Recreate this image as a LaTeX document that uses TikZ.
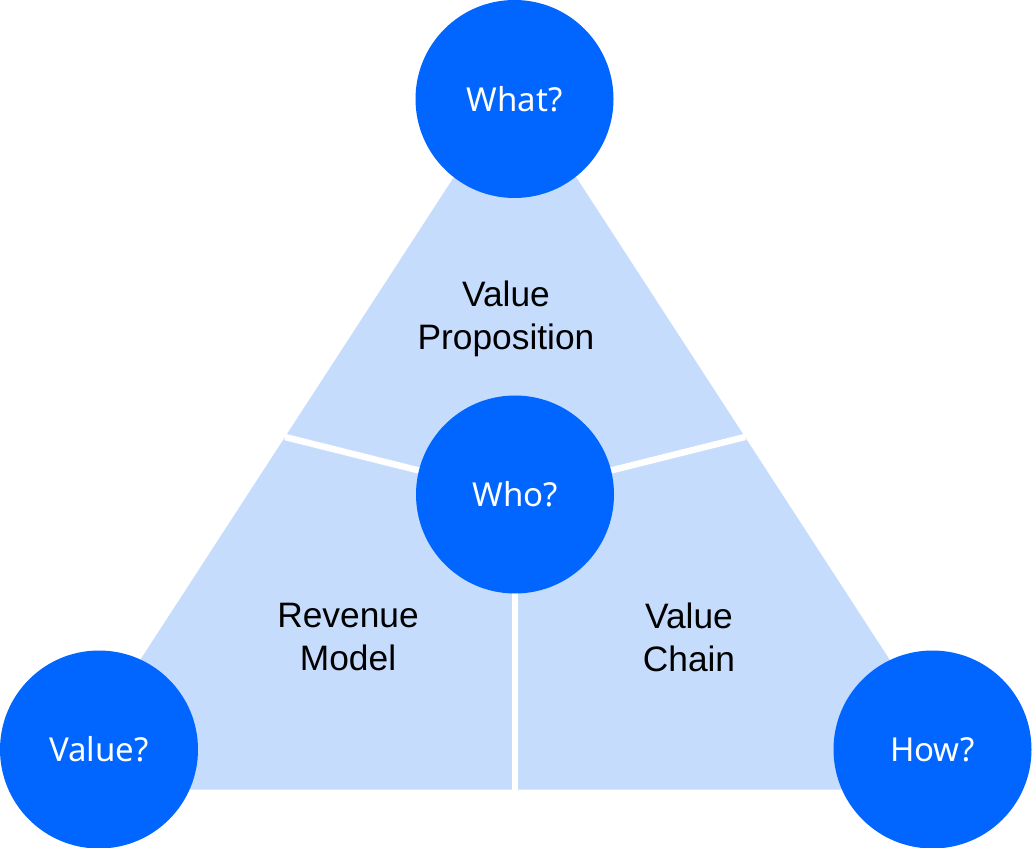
\documentclass[tikz,border=0pt]{standalone}
\usepackage{fontspec}
\setmainfont{Liberation Sans}
\newfontfamily\qfont{Noto Sans}
\definecolor{qblue}{RGB}{0,102,255}
\definecolor{paleblue}{RGB}{197,220,252}
\tikzset{
  question/.style={shape=circle, fill=qblue, text=white, inner sep=0pt,
    minimum size=148.5pt, font=\qfont\fontsize{24.75}{30}\selectfont},
  area/.style={align=center, text=black, font=\fontsize{26.5}{32.25}\selectfont},
  divider/.style={draw=white, line width=4.9pt}
}

\begin{document}
\begin{tikzpicture}[x=0.75pt, y=-0.75pt]
     \useasboundingbox (0,0) rectangle (1032,848);

     \coordinate (apex) at (515,83);
     \coordinate (bl) at (56,789.5);
     \coordinate (br) at (974,789.5);
     \coordinate (c) at (515,494.5);
     \coordinate (dl) at (285,437);
     \coordinate (dr) at (745,437);
     \coordinate (db) at (515,789.5);

     \fill[paleblue] (apex) -- (bl) -- (br) -- cycle;

     \path[divider] (dl) -- (c);
     \path[divider] (dr) -- (c);
     \path[divider] (c) -- (db);

     \node[area] (prop) at (506,319) {Value\\Proposition};
     \node[area] (rev) at (348,637) {Revenue\\Model};
     \node[area] (chain) at (689,637) {Value\\Chain};

     \node[question] (what) at (514.5,99) {What?};
     \node[question] (who) at (c) {Who?};
     \node[question] (value) at (99,749.5) {Value?};
     \node[question] (how) at (932.5,749.5) {How?};
\end{tikzpicture}
\end{document}
